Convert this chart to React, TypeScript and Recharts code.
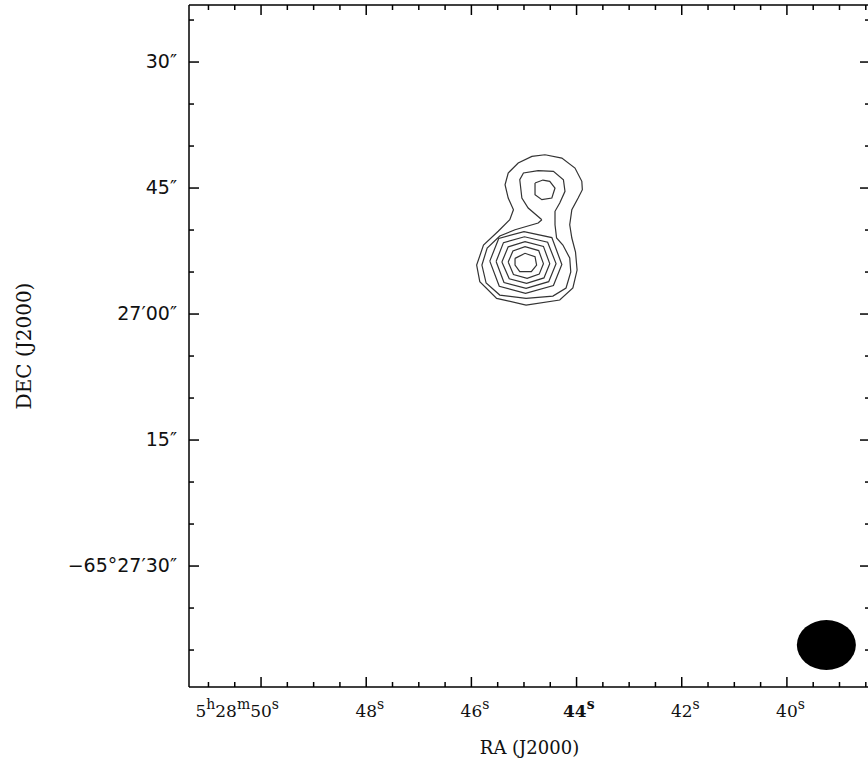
import { ScatterChart, Scatter, XAxis, YAxis } from "recharts";

// RA axis: seconds of 5h28m, minor ticks every 0.5s
const raTicks = [
  51, 50.5, 50, 49.5, 49, 48.5, 48, 47.5, 47, 46.5, 46, 45.5, 45, 44.5, 44,
  43.5, 43, 42.5, 42, 41.5, 41, 40.5, 40, 39.5, 39, 38.5,
];
const raLabelValues = [50, 48, 46, 44, 42, 40];
const raLabels = ["5h28m50s", "48s", "46s", "44s", "42s", "40s"];

// Dec axis: arcsec offset from -65°27'00", minor ticks every 5"
const decTicks = [
  35, 30, 25, 20, 15, 10, 5, 0, -5, -10, -15, -20, -25, -30, -35, -40,
];
const decLabelValues = [30, 15, 0, -15, -30];
const decLabels = ["30″", "45″", "27′00″", "15″", "−65°27′30″"];

// contour levels, [ra (s), dec offset (")]
const outerContour = [
  [44.6, 18.96], [44.28, 18.57], [44.03, 17.38], [43.9, 15.8], [43.89, 14.8],
  [43.97, 13.81], [44.09, 12.42], [44.13, 10.63], [44.09, 9.05], [44.02, 7.38],
  [43.99, 5.24], [44.07, 3.1], [44.32, 1.67], [44.96, 1.07], [45.52, 1.87],
  [45.84, 3.85], [45.9, 5.83], [45.77, 8.21], [45.49, 9.85], [45.27, 11.23],
  [45.2, 12.42], [45.3, 13.81], [45.36, 15.39], [45.3, 16.79], [45.11, 17.98],
  [44.85, 18.77],
];
const secondContour = [
  [44.66, 11.23], [44.92, 12.62], [45.04, 13.81], [45.08, 15.99], [45.01, 16.79],
  [44.73, 17.08], [44.44, 16.99], [44.25, 15.99], [44.22, 14.61], [44.32, 13.21],
  [44.41, 12.23], [44.41, 10.63], [44.38, 9.05], [44.26, 8.21], [44.13, 6.67],
  [44.11, 5.0], [44.2, 3.1], [44.45, 2.14], [44.96, 1.87], [45.46, 2.26],
  [45.72, 3.69], [45.8, 5.83], [45.7, 7.86], [45.46, 9.29], [45.17, 10.04],
  [44.73, 10.83],
];
const northPeak = [
  [44.79, 15.6], [44.64, 15.95], [44.51, 15.8], [44.41, 15.0], [44.47, 13.81],
  [44.66, 13.61], [44.79, 14.2],
];
const ring3 = [
  [45.65, 6.3], [45.48, 9.0], [45.0, 9.8], [44.47, 9.1], [44.28, 5.9],
  [44.44, 3.4], [44.97, 2.46], [45.47, 3.3],
];
const ring4 = [
  [45.53, 6.25], [45.39, 8.5], [44.99, 9.2], [44.55, 8.55], [44.39, 6.0],
  [44.53, 3.85], [44.96, 3.06], [45.38, 3.75],
];
const ring5 = [
  [45.42, 6.2], [45.3, 8.0], [44.98, 8.61], [44.63, 8.05], [44.51, 6.0],
  [44.62, 4.3], [44.95, 3.65], [45.28, 4.2],
];
const ring6 = [
  [45.3, 6.2], [45.21, 7.5], [44.98, 8.01], [44.72, 7.55], [44.63, 6.0],
  [44.71, 4.75], [44.94, 4.25], [45.2, 4.7],
];
const ring7 = [
  [45.17, 6.63], [44.98, 7.23], [44.79, 6.82], [44.76, 5.83], [44.86, 5.04],
  [45.08, 5.04], [45.17, 5.83],
];

// restoring beam position
const beam = [{ ra: 39.25, dec: -39.4 }];

const toPoints = (ring: number[][]) => {
  const pts = ring.map(([ra, dec]) => ({ ra, dec }));
  return [...pts, pts[0]];
};

const contours = [
  outerContour, secondContour, northPeak, ring3, ring4, ring5, ring6, ring7,
].map(toPoints);

const RA_DOMAIN: [number, number] = [38.42, 51.37];
const DEC_DOMAIN: [number, number] = [-44.4, 36.79];
const frame = { stroke: "#000", strokeWidth: 1.5 };
const ink = "#111";

const tickLen = (major: boolean) => (major ? 10 : 5);

const RaLabel = ({ x, y, label, bold }: any) => {
  const parts = label.match(/\d+|[a-z]/g) as string[];
  let raised = false;
  return (
    <text
      x={x + 18}
      y={y + 30}
      textAnchor="end"
      fontFamily="DejaVu Serif"
      fontSize={17}
      fontWeight={bold ? 700 : 400}
      fill={ink}
    >
      {parts.map((p, i) => {
        const sup = /[a-z]/.test(p);
        const dy = sup ? -8 : raised ? 8 : 0;
        raised = sup;
        return (
          <tspan key={i} dy={dy} fontSize={sup ? 14 : 17}>
            {p}
          </tspan>
        );
      })}
    </text>
  );
};

const BottomTick = (props: any) => {
  const { x, y, payload } = props;
  const idx = raLabelValues.indexOf(payload.value);
  const major = idx >= 0;
  return (
    <g>
      <line x1={x} x2={x} y1={y} y2={y - tickLen(major)} stroke="#000" strokeWidth={1.5} />
      {major && <RaLabel x={x} y={y} label={raLabels[idx]} bold={payload.value === 44} />}
    </g>
  );
};

const TopTick = (props: any) => {
  const { x, y, payload } = props;
  const major = raLabelValues.includes(payload.value);
  return <line x1={x} x2={x} y1={y} y2={y + tickLen(major)} stroke="#000" strokeWidth={1.5} />;
};

const LeftTick = (props: any) => {
  const { x, y, payload } = props;
  const idx = decLabelValues.indexOf(payload.value);
  const major = idx >= 0;
  return (
    <g>
      <line x1={x} x2={x + tickLen(major)} y1={y} y2={y} stroke="#000" strokeWidth={1.5} />
      {major && (
        <text x={x - 12} y={y + 6} textAnchor="end" fontFamily="DejaVu Sans" fontSize={19} fill={ink}>
          {decLabels[idx]}
        </text>
      )}
    </g>
  );
};

const RightTick = (props: any) => {
  const { x, y, payload } = props;
  const major = decLabelValues.includes(payload.value);
  return <line x1={x} x2={x - tickLen(major)} y1={y} y2={y} stroke="#000" strokeWidth={1.5} />;
};

const RaTitle = (props: any) => {
  const vb = props.viewBox ?? { x: 189, y: 687, width: 681 };
  return (
    <text x={vb.x + vb.width / 2} y={vb.y + 67} textAnchor="middle" fontFamily="DejaVu Serif" fontSize={18} fill={ink}>
      RA (J2000)
    </text>
  );
};

const DecTitle = (props: any) => {
  const vb = props.viewBox ?? { y: 5, height: 682 };
  const cy = vb.y + vb.height / 2;
  return (
    <text x={24} y={cy} transform={`rotate(-90, 24, ${cy})`} textAnchor="middle" dominantBaseline="central" fontFamily="DejaVu Serif" fontSize={20} fill={ink}>
      DEC (J2000)
    </text>
  );
};

const BeamShape = (props: any) => <ellipse cx={props.cx} cy={props.cy} rx={29.5} ry={25} fill="#000" />;

export default function App() {
  return (
    <div style={{ position: "absolute", left: 0, top: 0, width: 868, height: 772, overflow: "hidden", background: "#fff" }}>
      <ScatterChart width={872} height={772} margin={{ top: 4, right: 1, bottom: 84, left: 188 }}>
        <XAxis
          xAxisId="b" type="number" dataKey="ra" domain={RA_DOMAIN} reversed allowDataOverflow
          ticks={raTicks} interval={0} height={1} tickSize={0} tickMargin={0} tickLine={false}
          axisLine={frame} tick={(p: any) => <BottomTick {...p} />} label={<RaTitle />}
        />
        <XAxis
          xAxisId="t" orientation="top" type="number" dataKey="ra" domain={RA_DOMAIN} reversed allowDataOverflow
          ticks={raTicks} interval={0} height={1} tickSize={0} tickMargin={0} tickLine={false}
          axisLine={frame} tick={(p: any) => <TopTick {...p} />}
        />
        <YAxis
          yAxisId="l" type="number" dataKey="dec" domain={DEC_DOMAIN} allowDataOverflow
          ticks={decTicks} interval={0} width={1} tickSize={0} tickMargin={0} tickLine={false}
          axisLine={frame} tick={(p: any) => <LeftTick {...p} />} label={<DecTitle />}
        />
        <YAxis
          yAxisId="r" orientation="right" type="number" dataKey="dec" domain={DEC_DOMAIN} allowDataOverflow
          ticks={decTicks} interval={0} width={1} tickSize={0} tickMargin={0} tickLine={false}
          axisLine={frame} tick={(p: any) => <RightTick {...p} />}
        />
        {contours.map((c, i) => (
          <Scatter
            key={i} xAxisId="b" yAxisId="l" data={c} fill="#333"
            line={{ stroke: "#333", strokeWidth: 1.2 }} lineJointType="linear"
            shape={() => <g />} isAnimationActive={false}
          />
        ))}
        <Scatter xAxisId="b" yAxisId="l" data={beam} shape={(p: any) => <BeamShape {...p} />} isAnimationActive={false} />
      </ScatterChart>
    </div>
  );
}
